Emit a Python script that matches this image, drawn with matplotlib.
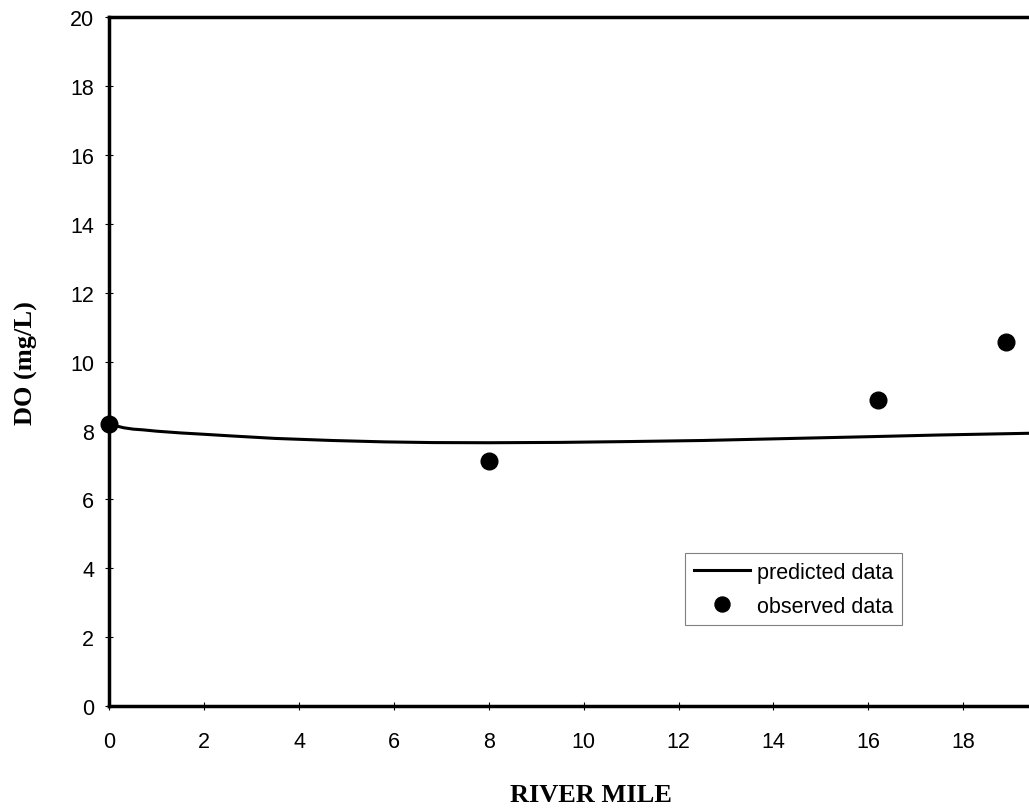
import matplotlib
matplotlib.use("Agg")
import matplotlib.pyplot as plt

# predicted DO curve
pred_mile = [0, 0.15, 0.3, 0.5, 0.7, 1.0, 1.5, 2.0, 2.6, 3.5, 4.7, 5.8, 6.8, 8.0, 9.5, 11, 12.5, 14.4, 16, 17.5, 19.4]
pred_do = [8.2, 8.13, 8.08, 8.04, 8.02, 7.98, 7.93, 7.89, 7.84, 7.77, 7.71, 7.67, 7.65, 7.645, 7.655, 7.68, 7.71, 7.77, 7.82, 7.87, 7.92]

# observed DO samples
obs_mile = [0, 8.0, 16.2, 18.9]
obs_do = [8.19, 7.11, 8.88, 10.57]

xticks = [0, 2, 4, 6, 8, 10, 12, 14, 16, 18]
yticks = [0, 2, 4, 6, 8, 10, 12, 14, 16, 18, 20]


def main():
    fig = plt.figure(figsize=(10.29, 8.12), dpi=100)
    ax = fig.add_axes([0.1064, 0.1293, 0.8936, 0.8482])

    ax.plot(pred_mile, pred_do, color='black', linewidth=2.2, label='predicted data')
    ax.plot(obs_mile, obs_do, linestyle='none', marker='o', markersize=12,
            color='black', label='observed data', clip_on=False, zorder=5)

    ax.set_xlim(0, 19.39)
    ax.set_ylim(0, 20)
    ax.set_xticks(xticks)
    ax.set_yticks(yticks)

    for side in ['left', 'bottom', 'top']:
        ax.spines[side].set_linewidth(2.5)
    ax.spines['right'].set_visible(False)

    ax.tick_params(axis='y', direction='inout', length=6, width=0.8, pad=8,
                   labelsize=15.5, labelfontfamily='Liberation Sans')
    ax.tick_params(axis='x', direction='inout', length=6, width=0.8, pad=15,
                   labelsize=15.5, labelfontfamily='Liberation Sans')

    ax.set_xlabel('RIVER MILE', fontsize=19, fontweight='bold', family='Liberation Serif')
    ax.xaxis.set_label_coords(0.524, -0.128)
    ax.xaxis.label.set_verticalalignment('center')
    ax.set_ylabel('DO (mg/L)', fontsize=19, fontweight='bold', family='Liberation Serif')
    ax.yaxis.set_label_coords(-0.078, 0.5)

    leg = ax.legend(loc='upper left', bbox_to_anchor=(0.626, 0.222), borderaxespad=0,
                    prop={'family': 'Liberation Sans', 'size': 15.5},
                    fancybox=False, framealpha=1, edgecolor='gray',
                    handlelength=2.6, handletextpad=0.35, labelspacing=0.6,
                    borderpad=0.4, markerscale=0.9)
    leg.get_frame().set_linewidth(0.8)

    fig.savefig('out.png', dpi=100)


if __name__ == "__main__":
    main()
